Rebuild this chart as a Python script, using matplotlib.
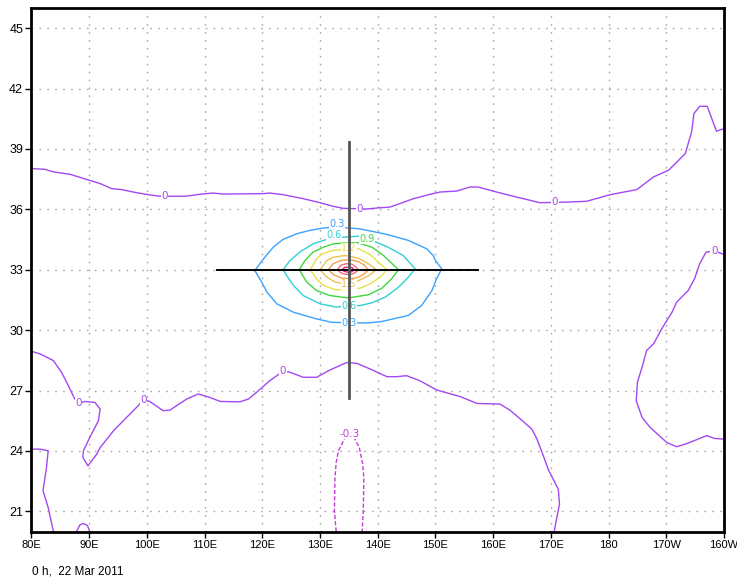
import matplotlib
matplotlib.use("Agg")
import matplotlib.pyplot as plt

# ---------------- axis ticks ----------------
lon_ticks = [80, 90, 100, 110, 120, 130, 140, 150, 160, 170, 180, 190, 200]
lon_labels = ["80E", "90E", "100E", "110E", "120E", "130E", "140E", "150E",
              "160E", "170E", "180", "170W", "160W"]
lat_ticks = [21, 24, 27, 30, 33, 36, 39, 42, 45]
lat_labels = ["21", "24", "27", "30", "33", "36", "39", "42", "45"]

# ---------------- zero contour (northern branch) ----------------
zero_n_lon = [79.7, 82.3, 83.8, 86.7, 90.1, 91.9, 93.9, 95.6, 98.2, 100.2, 102.3, 104.0,
              106.6, 109.5, 111.5, 113.2, 120.2, 121.3, 123.6, 127.1, 130.0, 132.3, 134.0,
              138.1, 140.4, 142.1, 146.2, 149.1, 150.8, 153.7, 156.0, 157.4, 158.9, 160.6,
              163.5, 166.4, 168.1, 172.8, 176.2, 180.3, 184.9, 187.8, 190.4, 193.3, 194.4,
              194.8, 195.8, 197.1, 198.7, 200.0]
zero_n_lat = [38.03, 37.99, 37.86, 37.74, 37.44, 37.28, 37.03, 36.98, 36.83, 36.73, 36.65, 36.65,
              36.65, 36.76, 36.81, 36.76, 36.78, 36.81, 36.73, 36.53, 36.33, 36.15, 36.05,
              36.02, 36.08, 36.11, 36.53, 36.75, 36.86, 36.91, 37.11, 37.11, 36.99, 36.86,
              36.65, 36.45, 36.33, 36.36, 36.40, 36.73, 36.98, 37.61, 37.94, 38.77, 39.85,
              40.76, 41.12, 41.12, 39.88, 40.01]

# ---------------- zero contour (southern branch) ----------------
zero_s_lon = [80.0, 81.5, 83.8, 85.2, 86.4, 87.5, 88.1, 89.3, 91.0, 91.9, 91.6, 90.1, 89.0,
              88.9, 89.8, 91.3, 91.9, 94.2, 96.5, 98.5, 99.4, 100.5, 102.8, 104.0, 106.9,
              108.9, 110.9, 112.7, 116.1, 117.6, 119.0, 121.3, 123.6, 124.8, 127.1, 129.4,
              131.7, 134.6, 136.4, 138.7, 141.6, 143.3, 145.0, 147.3, 150.2, 154.3, 157.2,
              161.2, 162.9, 164.7, 166.7, 167.6, 168.7, 169.6, 171.3, 171.5, 170.7, 170.6]
zero_s_lat = [28.95, 28.82, 28.49, 27.91, 27.24, 26.58, 26.36, 26.46, 26.41, 26.08, 25.50,
              24.67, 24.01, 23.68, 23.26, 23.84, 24.17, 25.00, 25.67, 26.25, 26.55, 26.46,
              26.00, 26.03, 26.58, 26.83, 26.66, 26.46, 26.44, 26.58, 26.91, 27.49, 27.96,
              27.91, 27.66, 27.66, 28.02, 28.39, 28.35, 28.07, 27.69, 27.69, 27.74, 27.49,
              27.03, 26.70, 26.36, 26.33, 26.03, 25.59, 25.09, 24.59, 23.76, 23.05, 22.10,
              21.36, 20.19, 20.0]

# ---------------- zero contour (south-west corner) ----------------
zero_sw_lon = [80.0, 81.5, 82.9, 82.6, 82.0, 82.9, 83.8]
zero_sw_lat = [24.09, 24.09, 24.01, 23.18, 22.02, 21.19, 20.0]

zero_hump_lon = [87.8, 88.4, 89.0, 89.7, 90.1]
zero_hump_lat = [20.0, 20.33, 20.4, 20.3, 20.0]

# ---------------- zero contour (eastern loop) ----------------
zero_e_lon = [200.0, 198.4, 196.9, 195.8, 194.9, 193.8, 191.8, 191.0, 189.2, 187.8, 186.6,
              185.8, 185.0, 184.8, 185.8, 187.2, 190.1, 191.8, 193.6, 197.0, 198.4, 200.0]
zero_e_lat = [33.76, 33.93, 33.88, 33.30, 32.55, 31.97, 31.39, 30.89, 30.06, 29.32, 28.99,
              28.15, 27.41, 26.50, 25.67, 25.17, 24.42, 24.21, 24.37, 24.76, 24.62, 24.59]

# ---------------- -0.3 contour ----------------
neg03_lon = [132.8, 132.5, 132.6, 132.8, 133.2, 134.3, 135.1, 135.8, 136.8, 137.4, 137.6,
             137.5, 137.3]
neg03_lat = [20.0, 21.03, 22.68, 23.43, 24.01, 24.64, 24.84, 24.71, 24.18, 23.35, 22.68,
             21.03, 20.0]

# ---------------- positive contours around the centre ----------------
c03_lon = [118.7, 120.2, 121.9, 123.6, 126.0, 128.3, 130.6, 132.6, 136.6, 139.0, 141.8,
           145.3, 148.5, 149.6, 150.0, 151.1, 150.2, 149.4, 147.6, 145.3, 140.7, 138.4,
           135.5, 132.0, 129.4, 125.4, 122.5, 120.8, 119.9, 118.7]
c03_lat = [32.96, 33.54, 34.12, 34.51, 34.79, 34.96, 35.07, 35.12, 35.04, 34.91, 34.74,
           34.46, 34.04, 33.71, 33.46, 33.05, 32.55, 31.97, 31.22, 30.73, 30.43, 30.36,
           30.36, 30.39, 30.56, 30.89, 31.31, 31.89, 32.39, 32.96]

c06_lon = [123.6, 124.8, 126.5, 128.8, 131.2, 133.2, 136.6, 139.0, 141.8, 144.4, 146.5,
           145.3, 143.6, 141.3, 139.0, 136.9, 134.0, 132.9, 130.0, 127.1, 125.4, 124.2, 123.6]
c06_lat = [33.0, 33.46, 33.88, 34.29, 34.51, 34.60, 34.67, 34.46, 34.12, 33.71, 33.05,
           32.63, 32.13, 31.64, 31.36, 31.22, 31.20, 31.14, 31.31, 31.72, 32.22, 32.72, 33.0]

c09_lon = [126.4, 127.4, 128.8, 130.6, 132.3, 134.5, 136.6, 139.0, 141.0, 143.6, 142.4,
           140.7, 138.4, 134.9, 131.7, 129.4, 127.7, 126.4]
c09_lat = [33.0, 33.46, 33.88, 34.12, 34.29, 34.33, 34.34, 34.12, 33.71, 33.0, 32.55,
           32.08, 31.76, 31.60, 31.72, 31.97, 32.39, 33.0]

c12_lon = [128.3, 129.4, 130.3, 132.3, 134.5, 136.6, 138.7, 140.1, 141.6, 140.4, 138.7,
           136.9, 134.3, 132.6, 130.6, 129.4, 128.3]
c12_lat = [33.0, 33.54, 33.79, 33.96, 34.02, 34.05, 33.75, 33.38, 33.0, 32.63, 32.30,
           32.08, 32.01, 32.01, 32.22, 32.55, 33.0]

c15_lon = [130.0, 131.2, 132.3, 134.3, 136.6, 138.4, 139.8, 138.4, 136.6, 134.5, 132.6,
           131.2, 130.0]
c15_lat = [33.0, 33.46, 33.62, 33.71, 33.58, 33.30, 33.0, 32.70, 32.45, 32.30, 32.39,
           32.63, 33.0]

c18_lon = [131.4, 132.3, 133.5, 135.0, 136.5, 137.6, 138.4, 137.6, 136.4, 135.0, 133.6,
           132.4, 131.4]
c18_lat = [33.0, 33.30, 33.45, 33.50, 33.42, 33.25, 33.0, 32.78, 32.60, 32.55, 32.60,
           32.75, 33.0]

c21_lon = [133.0, 133.6, 134.5, 135.5, 136.2, 136.6, 136.1, 135.2, 134.2, 133.5, 133.0]
c21_lat = [33.0, 33.22, 33.30, 33.28, 33.15, 33.0, 32.85, 32.76, 32.78, 32.87, 33.0]

c24_lon = [133.8, 134.3, 135.0, 135.6, 135.9, 135.5, 134.8, 134.2, 133.8]
c24_lat = [33.0, 33.12, 33.14, 33.10, 33.0, 32.90, 32.88, 32.92, 33.0]

# ---------------- contour labels ----------------
zero_label_lon = [103.1, 136.9, 170.7, 88.1, 99.4, 123.6, 198.3]
zero_label_lat = [36.66, 36.01, 36.36, 26.36, 26.55, 27.96, 33.93]

centre_labels = ["0.3", "0.6", "0.9", "1.2", "1.5", "0.6", "0.3"]
centre_label_lon = [133.0, 132.4, 138.2, 135.0, 135.0, 135.0, 135.0]
centre_label_lat = [35.25, 34.72, 34.55, 34.08, 32.28, 31.20, 30.36]

# storm-centre cross
cross_lon = 135.0
cross_lat = 33.0
cross_lon_span = [112.2, 157.4]
cross_lat_span = [26.65, 39.35]

# ---------------- colours ----------------
col_zero = "#a348f2"
col_neg = "#c63ad8"
col = {
    "0.3": "#3aa2ff",
    "0.6": "#2fd0d4",
    "0.9": "#3ed83e",
    "1.2": "#e8e048",
    "1.5": "#eec050",
    "1.8": "#f0a050",
    "2.1": "#f46a78",
    "2.4": "#f01890",
}

fig = plt.figure(figsize=(7.37, 5.80), dpi=100)
ax = fig.add_axes([0.0427, 0.0836, 0.9396, 0.9026])
ax.set_xlim(80, 200)
ax.set_ylim(20, 46)

# dotted grid
for x in lon_ticks:
    ax.axvline(x, color="#a8a8a8", lw=1.0, ls=(0, (1.2, 4.5)), zorder=0)
for y in lat_ticks:
    ax.axhline(y, color="#a8a8a8", lw=1.0, ls=(0, (1.2, 4.5)), zorder=0)

lw = 1.0
for xs, ys in [(zero_n_lon, zero_n_lat), (zero_s_lon, zero_s_lat),
               (zero_sw_lon, zero_sw_lat), (zero_hump_lon, zero_hump_lat),
               (zero_e_lon, zero_e_lat)]:
    ax.plot(xs, ys, color=col_zero, lw=lw, zorder=2, clip_on=True)

ax.plot(neg03_lon, neg03_lat, color=col_neg, lw=lw, ls=(0, (3, 1.5)), zorder=2)

for key, xs, ys in [("0.3", c03_lon, c03_lat), ("0.6", c06_lon, c06_lat),
                    ("0.9", c09_lon, c09_lat), ("1.2", c12_lon, c12_lat),
                    ("1.5", c15_lon, c15_lat), ("1.8", c18_lon, c18_lat),
                    ("2.1", c21_lon, c21_lat), ("2.4", c24_lon, c24_lat)]:
    ax.plot(xs, ys, color=col[key], lw=lw, zorder=2)

lab_font = dict(family="DejaVu Sans", fontsize=7.5)
box = dict(facecolor="white", edgecolor="none", pad=0.3)
for x, y in zip(zero_label_lon, zero_label_lat):
    ax.text(x, y, "0", color=col_zero, ha="center", va="center", bbox=box,
            zorder=3, **lab_font)
ax.text(135.1, 24.84, "-0.3", color=col_neg, ha="center", va="center", bbox=box,
        zorder=3, **lab_font)
for t, x, y in zip(centre_labels, centre_label_lon, centre_label_lat):
    ax.text(x, y, t, color=col[t], ha="center", va="center", bbox=box, zorder=3,
            family="DejaVu Sans", fontsize=7)

# storm-centre cross
ax.plot(cross_lon_span, [cross_lat, cross_lat], color="black", lw=1.4, zorder=5)
ax.plot([cross_lon, cross_lon], cross_lat_span, color="#555555", lw=2.0, zorder=5)

# axes styling
for s in ax.spines.values():
    s.set_linewidth(2.0)
    s.set_color("black")
ax.set_xticks(lon_ticks)
ax.set_xticklabels(lon_labels, family=["Liberation Sans Narrow", "Liberation Sans"],
                   fontsize=8)
ax.set_yticks(lat_ticks)
ax.set_yticklabels(lat_labels, family="Liberation Sans", fontsize=9)
ax.tick_params(direction="out", length=4, width=1, pad=2, colors="black")

fig.text(32 / 737, 1 - 572 / 580, "0 h,  22 Mar 2011",
         family=["Liberation Sans Narrow", "Liberation Sans"], fontsize=8.5,
         va="center", ha="left")

fig.savefig("out.png", dpi=100)
